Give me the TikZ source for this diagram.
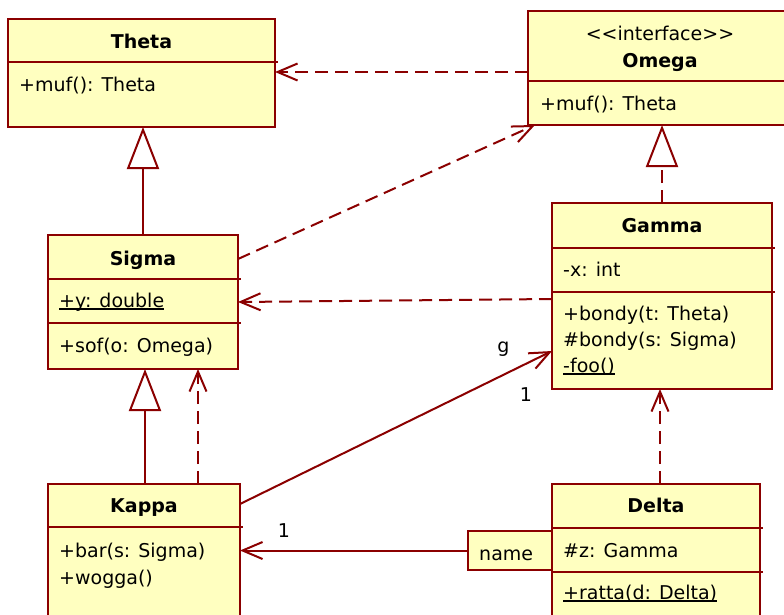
\documentclass[tikz,border=0pt]{standalone}
\usepackage{fontspec}
\setmainfont{DejaVu Sans}
\usetikzlibrary{arrows.meta}
\definecolor{umlline}{RGB}{139,0,0}
\definecolor{umlfill}{RGB}{255,255,192}
\newcommand\ulx[1]{\setbox0\hbox{#1}\rlap{\rule[-2.5pt]{\wd0}{1.2pt}}\box0}
\begin{document}
\begin{tikzpicture}[x=1pt,y=-1pt,
 box/.style={draw=umlline, fill=umlfill, line width=2pt, rectangle, anchor=north west, inner sep=0pt, outer sep=0pt},
 divider/.style={draw=umlline, line width=2pt},
 txt/.style={anchor=base west, inner sep=0pt, font=\fontsize{19pt}{23pt}\selectfont},
 ctr/.style={anchor=base, inner sep=0pt, font=\fontsize{19pt}{23pt}\selectfont},
 ttl/.style={anchor=base, inner sep=0pt, font=\fontsize{19pt}{23pt}\selectfont\bfseries},
 conn/.style={draw=umlline, line width=2pt},
 dep/.style={conn, dash pattern=on 13pt off 7pt},
 opena/.style={-{Straight Barb[length=20pt,width=17pt]}},
 gen/.style={-{Triangle[open,length=42pt,width=32pt,fill=white]}},
]
\useasboundingbox (0,0) rectangle (784,614);
\fill[white] (0,0) rectangle (784,614);
\clip (0,0) rectangle (784,614);

% boxes
\node[box, minimum width=267pt, minimum height=108pt] (theta) at (8,19) {};
\node[box, minimum width=264pt, minimum height=114pt] (omega) at (528,11) {};
\node[box, minimum width=220pt, minimum height=186pt] (gamma) at (552,203) {};
\node[box, minimum width=190pt, minimum height=134pt] (sigma) at (48,235) {};
\node[box, minimum width=192pt, minimum height=160pt] (kappa) at (48,484) {};
\node[box, minimum width=208pt, minimum height=160pt] (delta) at (552,484) {};
\node[box, minimum width=84pt, minimum height=39pt] (name) at (468,531) {};

% dividers
\draw[divider] (8,62) -- (278,62);
\draw[divider] (528,81) -- (792,81);
\draw[divider] (552,248) -- (775,248);
\draw[divider] (552,292) -- (775,292);
\draw[divider] (48,279) -- (241,279);
\draw[divider] (48,323) -- (241,323);
\draw[divider] (48,527) -- (243,527);
\draw[divider] (552,528) -- (763,528);
\draw[divider] (552,572) -- (763,572);

% texts
\node[ttl] (thetaT) at (141.5,48) {Theta};
\node[txt] (thetaM) at (19,91) {+muf(): Theta};

\node[ctr] (omegaS) at (660,40) {{<}{<}interface{>}{>}};
\node[ttl] (omegaT) at (660,67) {Omega};
\node[txt] (omegaM) at (540,110) {+muf(): Theta};

\node[ttl] (gammaT) at (662,232) {Gamma};
\node[txt] (gammaA) at (563,276) {-x: int};
\node[txt] (gammaM1) at (563,320) {+bondy(t: Theta)};
\node[txt] (gammaM2) at (563,346) {\#bondy(s: Sigma)};
\node[txt] (gammaM3) at (563,372) {\ulx{-foo()}};

\node[ttl] (sigmaT) at (143,265) {Sigma};
\node[txt] (sigmaA) at (59,307) {\ulx{+y: double}};
\node[txt] (sigmaM) at (59,352) {+sof(o: Omega)};

\node[ttl] (kappaT) at (144,512) {Kappa};
\node[txt] (kappaM1) at (59,557) {+bar(s: Sigma)};
\node[txt] (kappaM2) at (59,584) {+wogga()};

\node[ttl] (deltaT) at (656,512) {Delta};
\node[txt] (deltaA) at (563,557) {\#z: Gamma};
\node[txt] (deltaM) at (563,599) {\ulx{+ratta(d: Delta)}};

\node[txt] (nameT) at (479,560) {name};

% labels
\node[ctr] (lg) at (503.5,352) {g};
\node[ctr] (l1a) at (526,401) {1};
\node[ctr] (l1b) at (284,537) {1};

% connector anchor points
\coordinate (kg) at ([xshift=97pt]kappa.north west);
\coordinate (kd) at ([xshift=150pt]kappa.north west);
\coordinate (dd) at ([xshift=108pt]delta.north west);

% connectors
\draw[dep,opena] ([yshift=-61pt]omega.north west) -- ([yshift=-53pt]theta.north east);
\draw[dep,opena] ([yshift=-24pt]sigma.north east) -- ([xshift=7pt]omega.south west);
\draw[dep,gen] (gamma.north) -- (gamma.north |- omega.south);
\draw[conn,gen] (sigma.north) -- (sigma.north |- theta.south);
\draw[dep,opena] ([yshift=-96pt]gamma.north west) -- ([yshift=-67pt]sigma.north east);
\draw[conn,gen] (kg) -- (kg |- sigma.south);
\draw[dep,opena] (kd) -- (kd |- sigma.south);
\draw[conn,opena] ([yshift=-20pt]kappa.north east) -- ([yshift=-148pt]gamma.north west);
\draw[conn,opena] (name.west) -- (name.west -| kappa.east);
\draw[dep,opena] (dd) -- (dd |- gamma.south);
\end{tikzpicture}
\end{document}
